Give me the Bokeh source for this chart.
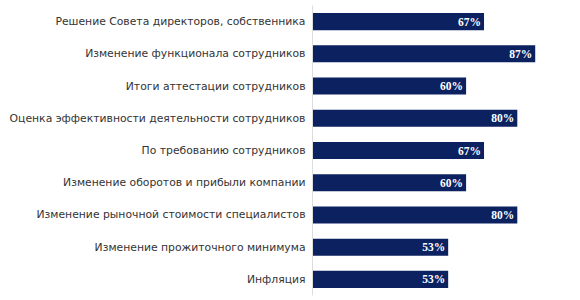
from bokeh.plotting import figure
from bokeh.models import ColumnDataSource, LabelSet
from bokeh.embed import file_html
from bokeh.resources import INLINE

categories = [
    "Решение Совета директоров, собственника",
    "Изменение функционала сотрудников",
    "Итоги аттестации сотрудников",
    "Оценка эффективности деятельности сотрудников",
    "По требованию сотрудников",
    "Изменение оборотов и прибыли компании",
    "Изменение рыночной стоимости специалистов",
    "Изменение прожиточного минимума",
    "Инфляция",
]
values = [67, 87, 60, 80, 67, 60, 80, 53, 53]
value_labels = [f"{v}%" for v in values]

y_factors = list(reversed(categories))

src = ColumnDataSource(dict(cat=categories, val=values, lab=value_labels))

p = figure(width=580, height=300, y_range=y_factors, x_range=(0, 100),
           output_backend="svg", toolbar_location=None,
           min_border_left=312, min_border_right=12,
           min_border_top=5, min_border_bottom=5)
p.y_range.range_padding = 0
p.hbar(y="cat", right="val", left=0, height=0.53, source=src,
       color="#0c2160", line_color=None)

labels = LabelSet(x="val", y="cat", text="lab", source=src,
                  x_offset=-3, text_align="right", text_baseline="middle",
                  text_color="white", text_font="DejaVu Sans",
                  text_font_style="bold", text_font_size="11.5px")
p.add_layout(labels)

p.xaxis.visible = False
p.grid.visible = False
p.outline_line_color = None
p.yaxis.major_tick_line_color = None
p.yaxis.minor_tick_line_color = None
p.yaxis.axis_line_color = "#dddddd"
p.yaxis.major_label_text_font = "DejaVu Sans"
p.yaxis.major_label_text_font_size = "10.8px"
p.yaxis.major_label_text_color = "#333333"
p.yaxis.major_label_standoff = 1

open("out.html", "w").write(file_html(p, INLINE))
